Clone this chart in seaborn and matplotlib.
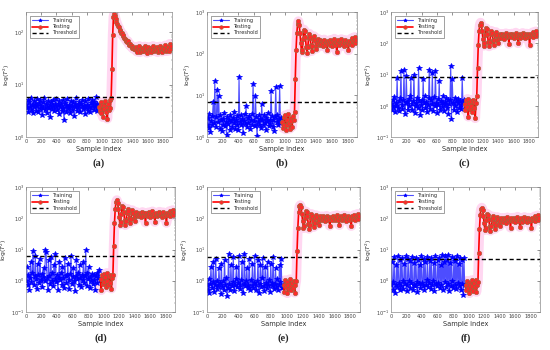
import numpy as np
import pandas as pd
import seaborn as sns
import matplotlib
matplotlib.use("Agg")
import matplotlib.pyplot as plt
from matplotlib.ticker import LogLocator, NullFormatter

# ---------------- data (log10 of the statistic) ----------------
STEP = 10           # sample spacing of the read-off values
TEST_START = 960    # first testing sample index

a_train = [0.62,0.55,0.70,0.48,0.66,0.58,0.74,0.52,0.61,0.45,0.68,0.57,0.63,0.50,0.72,0.59,0.47,0.65,0.54,0.70,
           0.60,0.42,0.66,0.56,0.75,0.51,0.63,0.58,0.46,0.69,0.55,0.62,0.38,0.67,0.53,0.71,0.60,0.49,0.64,0.57,
           0.73,0.52,0.61,0.44,0.68,0.58,0.63,0.50,0.70,0.56,0.33,0.65,0.59,0.48,0.72,0.54,0.62,0.57,0.45,0.69,
           0.60,0.52,0.66,0.41,0.63,0.58,0.74,0.50,0.61,0.55,0.67,0.47,0.64,0.59,0.71,0.53,0.60,0.44,0.68,0.56,
           0.62,0.50,0.73,0.58,0.47,0.65,0.55,0.70,0.61,0.52,0.66,0.57,0.76,0.49,0.63,0.58]
a_test = [0.58,0.50,0.66,0.45,0.62,0.38,0.60,0.53,0.68,0.48,0.57,0.35,0.63,0.52,0.70,0.56,
          0.75,1.30,1.95,2.30,
          2.36,2.31,2.25,2.20,2.16,2.12,2.10,2.05,2.03,1.98,1.99,1.94,1.95,1.90,1.88,1.86,1.84,1.82,1.83,1.78,
          1.76,1.77,1.73,1.74,1.70,1.71,1.68,1.69,
          1.66,1.72,1.63,1.70,1.67,1.74,1.62,1.69,1.65,1.71,1.68,1.64,1.73,1.66,1.70,1.61,1.68,1.72,1.65,1.69,
          1.63,1.71,1.67,1.74,1.64,1.70,1.66,1.68,1.72,1.62,1.69,1.65,1.73,1.67,1.70,1.63,1.71,1.66,1.69,1.75,
          1.64,1.70,1.67,1.72,1.65,1.78,1.68,1.74]

b_train = [0.30,0.45,0.22,0.55,0.12,0.38,0.28,0.50,0.85,0.33,
           1.34,0.25,0.47,1.12,0.35,0.98,0.20,0.52,0.40,0.15,
           0.44,0.30,0.58,0.26,0.36,0.05,0.48,0.32,0.42,0.18,
           0.54,0.38,0.24,0.46,0.34,0.60,0.20,0.40,0.30,0.50,
           0.16,1.44,0.36,0.52,0.28,0.44,0.10,0.38,0.56,0.32,
           0.75,0.24,0.46,0.34,0.50,0.20,0.42,0.30,0.55,1.27,
           0.38,0.26,0.98,0.48,0.02,0.36,0.52,0.30,0.44,0.22,
           0.80,0.40,0.28,0.54,0.34,0.18,0.46,0.38,0.58,0.26,
           0.42,0.32,1.10,0.50,0.24,0.40,0.14,0.48,1.20,0.36,
           0.52,0.28,0.44,1.22,0.34,0.46]
b_test = [0.35,0.22,0.48,0.30,0.52,0.18,0.40,0.28,0.55,0.33,0.20,0.45,0.38,0.25,0.50,0.42,
          0.60,1.40,2.10,2.50,
          2.72,2.78,2.70,2.50,2.25,2.05,2.10,2.35,2.58,2.55,2.40,2.15,2.02,2.15,2.38,2.48,2.40,2.20,2.06,2.18,
          2.35,2.42,2.33,2.18,2.12,2.25,2.36,
          2.28,2.20,2.32,2.24,2.30,2.18,2.27,2.34,2.22,2.29,2.25,2.10,2.31,2.26,2.21,2.33,2.27,2.19,2.30,2.24,
          2.36,2.22,2.28,2.05,2.26,2.32,2.20,2.29,2.25,2.35,2.23,2.30,2.18,2.27,2.33,2.21,2.28,2.26,2.08,2.31,
          2.24,2.29,2.37,2.22,2.30,2.27,2.40,2.25,2.32]

c_train = [0.05,-0.12,0.20,-0.05,0.28,-0.20,0.10,0.00,0.90,-0.08,
           0.15,-0.18,0.25,1.10,0.02,-0.10,0.18,1.15,-0.25,0.08,
           0.95,0.12,-0.15,0.22,-0.02,0.30,0.90,-0.12,0.06,0.16,
           1.00,-0.22,0.10,0.00,0.26,-0.08,1.20,0.14,-0.30,0.04,
           0.20,-0.14,0.85,0.08,0.32,-0.06,0.12,-0.20,0.02,0.24,
           1.15,-0.10,0.18,0.06,1.05,-0.16,0.28,0.00,1.10,0.10,
           -0.24,0.22,0.04,0.80,-0.12,0.16,0.08,-0.04,0.30,-0.18,
           0.12,0.02,0.24,-0.08,0.18,-0.26,0.06,0.20,1.28,-0.42,
           0.85,0.10,-0.14,0.26,0.00,0.14,-0.20,0.08,0.22,-0.06,
           0.16,0.04,-0.10,0.90,0.12,0.20]
c_test = [0.05,-0.15,0.18,-0.05,0.22,-0.35,0.10,-0.10,0.15,0.00,-0.20,0.20,-0.08,0.12,-0.40,0.08,
          0.30,1.20,1.95,2.40,
          2.60,2.66,2.58,2.40,2.15,1.92,2.00,2.28,2.48,2.45,2.30,2.05,1.90,2.05,2.30,2.40,2.33,2.12,1.95,2.10,
          2.28,2.36,2.26,2.10,2.02,2.18,2.30,
          2.24,2.18,2.30,2.22,2.27,2.15,2.25,2.32,2.20,2.28,2.23,1.98,2.29,2.24,2.19,2.31,2.26,2.17,2.28,2.22,
          2.34,2.20,2.27,2.00,2.25,2.30,2.18,2.27,2.23,2.33,2.21,2.29,2.16,2.26,2.31,2.19,2.27,2.24,1.96,2.30,
          2.22,2.28,2.35,2.20,2.29,2.26,2.38,2.23,2.31]

d_train = [0.00,0.45,-0.15,0.20,-0.30,0.10,0.60,-0.05,0.25,0.95,
           -0.12,0.15,0.80,0.05,-0.25,0.55,0.18,-0.08,0.70,0.02,
           0.22,-0.20,0.12,0.40,-0.02,0.98,0.92,0.08,-0.28,0.65,
           0.15,-0.10,0.75,0.00,0.24,-0.18,0.50,0.06,0.85,-0.04,
           0.20,-0.30,0.10,0.60,0.02,0.26,-0.14,0.45,0.08,-0.22,
           0.72,0.14,-0.06,0.18,0.55,-0.26,0.04,0.22,0.80,-0.10,
           0.12,0.40,0.00,-0.32,0.16,0.65,0.06,0.24,-0.12,0.50,
           0.10,-0.20,0.20,0.02,0.60,-0.08,0.14,0.98,-0.16,0.26,
           0.05,0.45,-0.24,0.12,0.00,0.22,-0.10,0.18,0.04,-0.28,
           0.14,0.24,-0.06,0.10,0.35,0.02]
d_test = [0.05,-0.30,0.18,-0.10,0.22,-0.05,0.12,-0.20,0.25,0.00,-0.15,0.15,-0.08,0.20,-0.25,0.08,
          0.20,1.10,1.85,2.30,
          2.52,2.58,2.50,2.30,2.05,1.80,1.88,2.15,2.38,2.35,2.20,1.95,1.78,1.92,2.18,2.30,2.24,2.02,1.85,1.98,
          2.16,2.26,2.18,2.00,1.92,2.08,2.20,
          2.12,2.06,2.18,2.10,2.15,2.03,2.13,2.20,2.08,2.16,2.11,1.86,2.17,2.12,2.07,2.19,2.14,2.05,2.16,2.10,
          2.22,2.08,2.15,1.88,2.13,2.18,2.06,2.15,2.11,2.21,2.09,2.17,2.04,2.14,2.19,2.07,2.15,2.12,1.85,2.18,
          2.10,2.16,2.23,2.08,2.17,2.14,2.26,2.11,2.19]

e_train = [-0.15,-0.30,0.05,-0.40,-0.10,0.45,-0.22,-0.05,0.60,-0.35,
           -0.12,0.70,-0.25,0.00,-0.18,0.40,-0.08,-0.42,0.55,-0.20,
           -0.02,-0.30,0.65,-0.14,0.08,-0.50,-0.22,0.85,-0.10,-0.28,
           0.50,-0.16,-0.04,0.75,-0.34,-0.12,0.06,0.45,-0.20,-0.08,
           0.80,-0.26,-0.14,0.02,0.60,-0.38,-0.10,0.85,-0.18,-0.02,
           0.40,-0.24,-0.12,0.70,-0.30,0.04,-0.16,0.55,-0.22,-0.06,
           0.78,-0.28,-0.14,0.00,0.65,-0.40,-0.10,0.50,-0.20,0.08,
           0.72,-0.18,-0.32,0.45,-0.08,-0.22,0.60,-0.12,0.02,-0.36,
           0.55,-0.16,-0.06,0.75,-0.26,-0.10,0.40,-0.20,0.06,-0.30,
           -0.14,0.50,-0.04,0.70,-0.24,-0.12]
e_test = [-0.15,-0.35,0.02,-0.20,-0.05,-0.40,-0.12,-0.25,0.05,-0.18,-0.30,-0.08,-0.22,0.00,-0.38,-0.14,
          0.00,0.95,1.70,2.20,
          2.38,2.42,2.35,2.15,1.90,1.68,1.75,2.02,2.22,2.20,2.06,1.82,1.66,1.80,2.02,2.14,2.08,1.90,1.72,1.86,
          2.02,2.10,2.04,1.88,1.80,1.95,2.06,
          2.00,1.94,2.06,1.98,2.03,1.91,2.01,2.08,1.96,2.04,1.99,1.76,2.05,2.00,1.95,2.07,2.02,1.93,2.04,1.98,
          2.10,1.96,2.03,1.78,2.01,2.06,1.94,2.03,1.99,2.09,1.97,2.05,1.92,2.02,2.07,1.95,2.03,2.00,1.75,2.06,
          1.98,2.04,2.11,1.96,2.05,2.02,2.14,1.99,2.07]

f_train = [-0.15,0.60,-0.28,-0.05,0.75,-0.38,-0.12,0.50,-0.20,0.78,
           -0.08,-0.30,0.65,-0.16,0.72,-0.02,-0.25,0.55,-0.10,0.80,
           -0.34,-0.14,0.70,0.00,-0.22,0.62,-0.08,0.76,-0.28,-0.12,
           0.58,-0.18,0.74,-0.04,-0.36,0.66,-0.10,0.52,-0.24,0.78,
           -0.06,-0.16,0.70,-0.30,0.60,-0.12,0.02,0.75,-0.20,-0.08,
           0.64,-0.26,0.72,-0.14,-0.02,0.56,-0.32,0.80,-0.10,-0.18,
           0.68,-0.06,0.74,-0.24,0.50,-0.14,0.82,-0.28,0.60,-0.04,
           0.78,-0.20,0.66,-0.10,0.84,-0.34,0.58,-0.16,0.76,-0.02,
           -0.22,0.70,-0.12,0.62,-0.26,0.80,-0.08,0.55,-0.18,0.72,
           -0.30,-0.10,0.68,-0.44,0.74,-0.14]
f_test = [-0.15,-0.30,0.00,-0.22,-0.08,-0.40,-0.12,-0.25,0.02,-0.18,-0.32,-0.06,-0.20,0.04,-0.36,-0.14,
          -0.05,0.90,1.65,2.12,
          2.30,2.34,2.28,2.08,1.84,1.62,1.70,1.96,2.14,2.12,1.98,1.76,1.60,1.74,1.96,2.06,2.00,1.84,1.66,1.80,
          1.96,2.04,1.98,1.82,1.74,1.90,2.00,
          1.95,1.89,2.01,1.93,1.98,1.86,1.96,2.03,1.91,1.99,1.94,1.70,2.00,1.95,1.90,2.02,1.97,1.88,1.99,1.93,
          2.05,1.91,1.98,1.72,1.96,2.01,1.89,1.98,1.94,2.04,1.92,2.00,1.87,1.97,2.02,1.90,1.98,1.95,1.70,2.01,
          1.93,1.99,2.06,1.91,2.00,1.97,2.09,1.94,2.02]

panel_labels = ["(a)", "(b)", "(c)", "(d)", "(e)", "(f)"]
trains = [a_train, b_train, c_train, d_train, e_train, f_train]
tests = [a_test, b_test, c_test, d_test, e_test, f_test]
thresholds = [5.9, 7.1, 8.3, 6.2, 5.9, 5.1]
ylims = [(1, 245), (1, 1000), (0.1, 1000), (0.1, 1000), (0.1, 1000), (0.1, 1000)]
xticks = [0, 200, 400, 600, 800, 1000, 1200, 1400, 1600, 1800]
ylabel = "log($T^2$)"
legend_names = ["Training", "Testing", "Threshold"]

# ---------------- drawing ----------------
sns.set_theme(style="white")
plt.rcParams["font.family"] = ["DejaVu Sans"]
plt.rcParams["mathtext.fontset"] = "dejavusans"

fig = plt.figure(figsize=(5.5, 3.5), dpi=100)
fig.patch.set_facecolor("white")

positions = [
    (26, 12, 146, 125), (207, 12, 150, 125), (391, 12, 147, 125),
    (26, 187, 149, 125), (207, 187, 153, 125), (391, 187, 149, 125),
]
W, H = 550.0, 350.0

for k in range(6):
    px, py, pw, ph = positions[k]
    ax = fig.add_axes([px / W, 1 - (py + ph) / H, pw / W, ph / H])
    tr = np.power(10.0, np.array(trains[k]))
    te = np.power(10.0, np.array(tests[k]))
    df_tr = pd.DataFrame({"x": np.arange(len(tr)) * STEP, "y": tr})
    df_te = pd.DataFrame({"x": TEST_START + np.arange(len(te)) * STEP, "y": te})

    # pink halo behind testing samples
    sns.lineplot(data=df_te, x="x", y="y", ax=ax, color="#ff8fd8", lw=7,
                 alpha=0.35, sort=False, estimator=None, legend=False)
    # training samples
    sns.lineplot(data=df_tr, x="x", y="y", ax=ax, color="#4d4dff", lw=0.8,
                 marker="*", markersize=4.2, markerfacecolor="blue",
                 markeredgecolor="blue", markeredgewidth=0.5,
                 sort=False, estimator=None, label=legend_names[0])
    # testing samples
    sns.lineplot(data=df_te, x="x", y="y", ax=ax, color="red", lw=1.2,
                 marker="o", markersize=3.2, markerfacecolor="#ff2a2a",
                 markeredgecolor="#a8603a", markeredgewidth=0.45,
                 sort=False, estimator=None, label=legend_names[1])
    ax.axhline(thresholds[k], color="black", lw=1.0, ls=(0, (3, 2)),
               label=legend_names[2])

    ax.set_yscale("log")
    ax.set_ylim(*ylims[k])
    ax.set_xlim(0, 1920)
    ax.set_xticks(xticks)
    ax.set_xticklabels([str(t) for t in xticks])
    ax.yaxis.set_major_locator(LogLocator(base=10, numticks=10))
    ax.yaxis.set_minor_locator(LogLocator(base=10, subs=np.arange(2, 10) * 1.0, numticks=20))
    ax.yaxis.set_minor_formatter(NullFormatter())
    ax.tick_params(axis="both", which="major", labelsize=3.6, direction="in",
                   length=2, width=0.4, pad=1.5, colors="#404040",
                   top=True, right=True)
    ax.tick_params(axis="y", which="minor", direction="in", length=1, width=0.3,
                   right=True, colors="#606060")
    for s in ax.spines.values():
        s.set_color("#8c8c8c")
        s.set_linewidth(0.5)
    ax.set_xlabel("Sample index", fontsize=4.8, labelpad=1.5, color="#303030")
    ax.set_ylabel(ylabel, fontsize=4.3, labelpad=1, color="#303030")

    leg = ax.legend(loc="upper left", fontsize=3.6, frameon=True, fancybox=False,
                    edgecolor="#303030", borderpad=0.4, handlelength=3.2,
                    labelspacing=0.25, borderaxespad=0.8)
    leg.get_frame().set_linewidth(0.4)
    for h in leg.get_lines()[:2]:
        h.set_markersize(2.6)

    fig.text((px + pw / 2) / W, 1 - (py + ph + 26) / H, panel_labels[k],
             ha="center", va="center", fontsize=7.5, fontweight="bold",
             family="Liberation Serif")

fig.savefig("out.png", dpi=100, facecolor="white")
